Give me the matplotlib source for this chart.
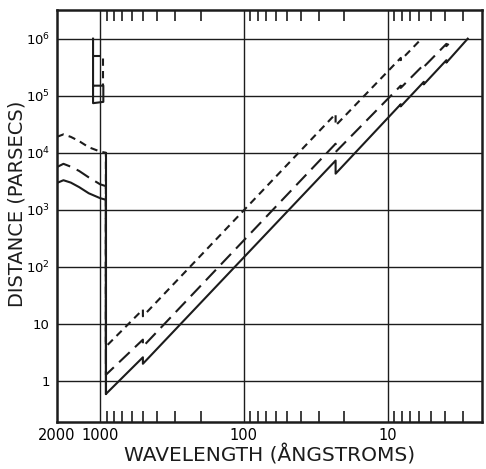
import numpy as np
import matplotlib
matplotlib.use('Agg')
import matplotlib.pyplot as plt

plt.rcParams['mathtext.fontset'] = 'dejavusans'

# wavelength nodes (Angstrom) and distances (pc)
# visible / near-UV part, lambda > 912 A
vis_wl = [2000, 1800, 1600, 1400, 1200, 1000, 912]
vis_solid = [2.95e3, 3.3e3, 3.0e3, 2.5e3, 1.95e3, 1.6e3, 1.5e3]
vis_long = [5.6e3, 6.4e3, 5.7e3, 4.8e3, 3.7e3, 2.8e3, 2.6e3]
vis_short = [1.9e4, 2.1e4, 1.9e4, 1.6e4, 1.25e4, 1.05e4, 1.0e4]

# EUV / X-ray part, lambda < 912 A (edges at 504 A and 23 A, small jogs below 10 A)
solid_wl = [912, 504, 504, 23, 23, 8.1, 8.1, 5.6, 5.6, 3.9, 3.9, 2.77]
solid_d = [0.59, 2.6, 2.0, 7.3e3, 4.3e3, 7.1e4, 6.5e4, 1.75e5, 1.58e5, 4.2e5, 3.8e5, 1e6]
long_wl = [912, 504, 504, 23, 23, 8.1, 8.1, 5.6, 5.6, 3.9, 3.9, 3.47]
long_d = [1.28, 5.3, 4.0, 1.44e4, 1.03e4, 1.5e5, 1.37e5, 3.5e5, 3.2e5, 8.1e5, 7.4e5, 1e6]
short_wl = [912, 504, 504, 23, 23, 8.1, 8.1, 5.8]
short_d = [4.0, 17.9, 13.6, 4.8e4, 3.0e4, 4.6e5, 4.2e5, 1e6]

# box structure near 1000-1100 A
box_wl = [1120, 1120, 950, 950, 1120]
box_d = [1e6, 7.4e4, 7.8e4, 1.5e5, 1.5e5]
box2_wl = [1120, 950, 950]
box2_d = [4.9e5, 4.9e5, 1.5e5]

ytick_vals = [1, 10, 1e2, 1e3, 1e4, 1e5, 1e6]
ytick_labels = ['1', '10', r'$10^{2}$', r'$10^{3}$', r'$10^{4}$', r'$10^{5}$', r'$10^{6}$']
xtick_vals = [2000, 1000, 100, 10]
xtick_labels = ['2000', '1000', '100', '10']

ink = '#1c1c1c'

fig = plt.figure(figsize=(4.86, 4.69), dpi=100)
ax = fig.add_axes([0.117, 0.100, 0.875, 0.879])
ax.set_xscale('log')
ax.set_yscale('log')
ax.set_xlim(2000, 2.2)
ax.set_ylim(0.19, 3.2e6)

for y in ytick_vals:
    ax.axhline(y, color=ink, lw=1.0, zorder=1)
for x in [1000, 100, 10]:
    ax.axvline(x, color=ink, lw=1.0, zorder=1)

curves = [
    (vis_solid, solid_wl, solid_d, '-'),
    (vis_long, long_wl, long_d, (0, (7, 3.5))),
    (vis_short, short_wl, short_d, (0, (3.5, 2.5))),
]
for vd, uw, ud, ls in curves:
    ax.plot(vis_wl + uw, vd + ud, color=ink, lw=1.5, ls=ls, zorder=3)

# the drop at the Lyman limit, drawn solid
ax.plot([912, 912], [vis_short[-1], solid_d[0]], color=ink, lw=1.5, zorder=3)

ax.plot(box_wl, box_d, color=ink, lw=1.5, zorder=3)
ax.plot(box2_wl, box2_d, color=ink, lw=1.5, ls=(0, (3.5, 2.5)), zorder=3)

# minor ticks inside, top and bottom
minor = []
for dec in [100, 10, 1]:
    for m in range(2, 10):
        if m * dec >= 2.2:
            minor.append(m * dec)
ax.set_xticks(xtick_vals)
ax.set_xticklabels(xtick_labels)
ax.set_xticks(minor, minor=True)
ax.tick_params(axis='x', which='minor', direction='in', length=8, width=1.2,
               top=True, bottom=True, color=ink)
ax.tick_params(axis='x', which='major', length=0, pad=4, labelsize=10.5)
ax.set_yticks(ytick_vals)
ax.set_yticklabels(ytick_labels)
ax.yaxis.set_minor_locator(matplotlib.ticker.NullLocator())
ax.tick_params(axis='y', which='major', length=0, pad=5, labelsize=9.5)

for s in ax.spines.values():
    s.set_linewidth(1.8)
    s.set_color(ink)

ax.set_xlabel('WAVELENGTH (ÅNGSTROMS)', fontsize=14.5, color=ink)
ax.set_ylabel('DISTANCE (PARSECS)', fontsize=14, color=ink)
ax.xaxis.set_label_coords(0.50, -0.080)
ax.xaxis.label.set_va('center')
ax.yaxis.set_label_coords(-0.093, 0.53)
ax.yaxis.label.set_va('center')

fig.savefig('out.png', dpi=100)
